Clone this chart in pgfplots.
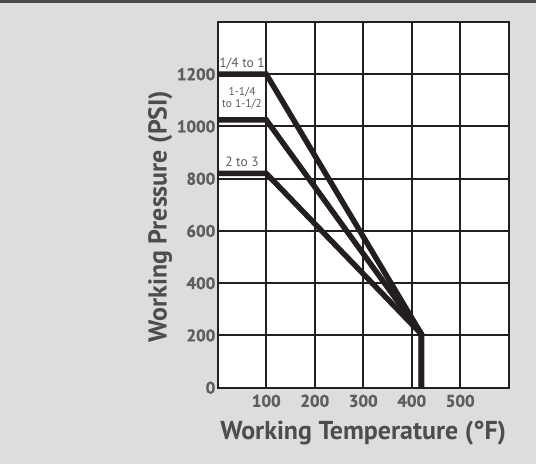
\documentclass[border=0pt]{standalone}
\usepackage{fontspec}
\setmainfont{PT Sans}
\newfontfamily\tickfont{PT Sans}[BoldFeatures={FakeBold=1.2}]
\usepackage{pgfplots}
\pgfplotsset{compat=1.18}
\definecolor{bg}{HTML}{DCDDDF}
\definecolor{topbar}{HTML}{4A4A4C}
\definecolor{ticktxt}{HTML}{5E5E60}
\definecolor{labtxt}{HTML}{4D4D4F}
\definecolor{ink}{HTML}{231F20}
\begin{document}
\begin{tikzpicture}[x=1bp,y=1bp]
\fill[bg] (0,0) rectangle (536,464);
\fill[topbar] (0,461) rectangle (536,464);
\begin{axis}[
  at={(217.8bp,76.3bp)}, anchor=south west,
  scale only axis, width=290.9bp, height=365.7bp,
  xmin=0, xmax=600, ymin=0, ymax=1400,
  xtick={100,200,300,400,500}, ytick={0,200,400,600,800,1000,1200},
  xticklabels={100,200,300,400,500},
  yticklabels={0,200,400,600,800,1000,1200},
  grid=major, major grid style={draw=ink, line width=2bp},
  axis line style={draw=ink, line width=2.2bp},
  tick style={draw=none},
  axis background/.style={fill=white},
  ticklabel style={font=\tickfont\fontsize{17}{17}\selectfont\bfseries, text=ticktxt},
  yticklabel style={xshift=1bp},
  xticklabel style={yshift=-3.5bp},
  xlabel={Working Temperature (°F)},
  ylabel={Working Pressure (PSI)},
  xlabel style={font=\fontsize{26}{26}\selectfont\bfseries, text=labtxt, at={(axis description cs:0.5,-0.123)}, anchor=center},
  ylabel style={font=\fontsize{26}{26}\selectfont\bfseries, text=labtxt, at={(axis description cs:-0.198,0.468)}, anchor=center},
]
\addplot[draw=ink, line width=5.5bp, line join=miter] coordinates {(0,1200) (100,1200) (420,205) (420,0)};
\addplot[draw=ink, line width=5.5bp, line join=miter] coordinates {(0,1025) (100,1025) (420,205) (420,0)};
\addplot[draw=ink, line width=5.5bp, line join=miter] coordinates {(0,820) (100,820) (420,205) (420,0)};
\node[font=\fontsize{13.5}{13.5}\selectfont, text=ticktxt] at (axis cs:50,1240) {1/4 to 1};
\node[font=\fontsize{11.5}{12.5}\selectfont, text=ticktxt, align=center] at (axis cs:50,1108) {1-1/4\\to 1-1/2};
\node[font=\fontsize{13.5}{13.5}\selectfont, text=ticktxt] at (axis cs:50,863) {2 to 3};
\end{axis}
\end{tikzpicture}
\end{document}
